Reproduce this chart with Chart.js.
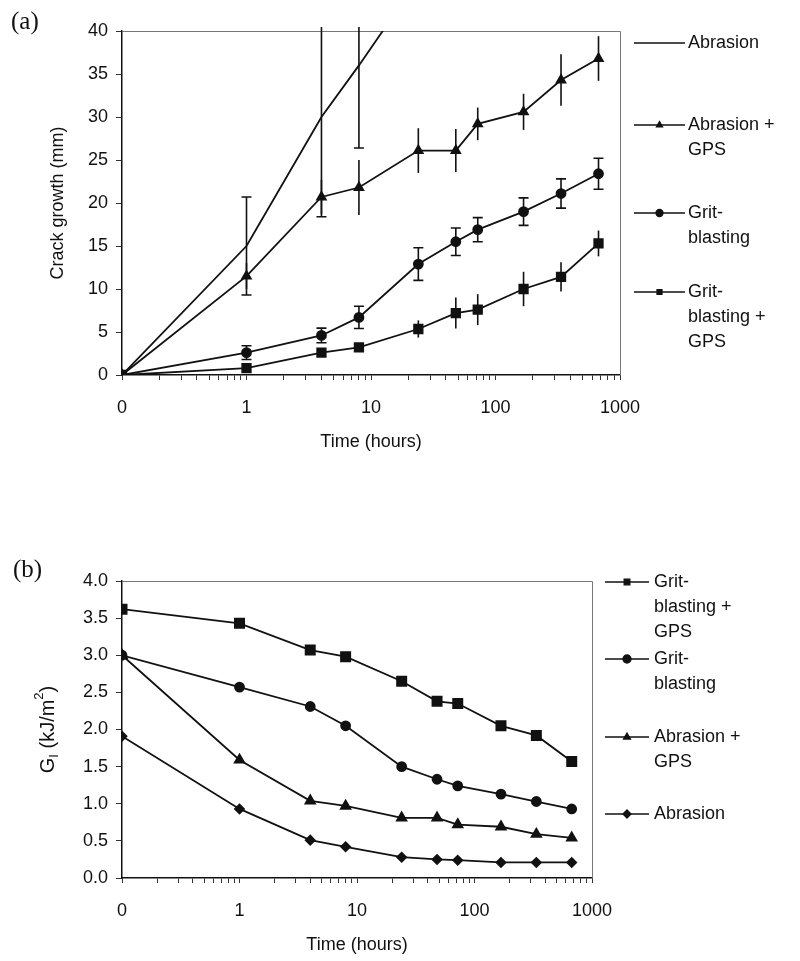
<!DOCTYPE html>
<html>
<head>
<meta charset="utf-8">
<script src="https://cdn.jsdelivr.net/npm/chart.js@4.4.0/dist/chart.umd.min.js"></script>
<style>
  html, body { margin: 0; padding: 0; background: #fff; }
  #wrapA { position: absolute; left: 0; top: 0; width: 800px; height: 470px; }
  #wrapB { position: absolute; left: 0; top: 470px; width: 800px; height: 491px; }
</style>
</head>
<body>
<div id="wrapA"><canvas id="crackChart"></canvas></div>
<div id="wrapB"><canvas id="energyChart"></canvas></div>
<script>
// time points (hours) - 0 sits at the 0.1 position of the log axis
const hours = [0, 1, 4, 8, 24, 48, 72, 168, 336, 672];
const xTickValues = [0.1, 1, 10, 100, 1000];
const xTickLabels = ['0', '1', '10', '100', '1000'];

// (a) crack growth (mm) and error bars
const crackAbrasion = [0, 15, 30, 36, 46];
const crackAbrasionErr = [0, 5.7, 11.6, 9.6, 0];
const crackAbrasionGps = [0, 11.5, 20.7, 21.8, 26.1, 26.1, 29.2, 30.6, 34.3, 36.8];
const crackAbrasionGpsErr = [0, 1.5, 2.0, 3.2, 2.6, 2.5, 1.9, 2.1, 3.0, 2.6];
const crackGrit = [0, 2.6, 4.6, 6.7, 12.9, 15.5, 16.9, 19.0, 21.1, 23.4];
const crackGritErr = [0, 0.8, 0.85, 1.3, 1.9, 1.6, 1.4, 1.6, 1.7, 1.8];
const crackGritGps = [0, 0.8, 2.6, 3.2, 5.35, 7.2, 7.6, 10.0, 11.4, 15.3];
const crackGritGpsErr = [0, 0, 0.4, 0.5, 1.0, 1.8, 1.8, 2.0, 1.7, 1.5];

// (b) fracture energy G_I (kJ/m2)
const energyGritGps = [3.62, 3.43, 3.07, 2.98, 2.65, 2.38, 2.35, 2.05, 1.92, 1.57];
const energyGrit = [3.0, 2.57, 2.31, 2.05, 1.50, 1.33, 1.24, 1.13, 1.03, 0.93];
const energyAbrasionGps = [3.0, 1.59, 1.04, 0.97, 0.81, 0.81, 0.72, 0.69, 0.59, 0.54];
const energyAbrasion = [1.91, 0.93, 0.51, 0.42, 0.28, 0.25, 0.24, 0.21, 0.21, 0.21];

const FONT = 'Liberation Sans, Arial, sans-serif';

function toPoints(vals) {
    return vals.map((v, i) => ({ x: hours[i] === 0 ? 0.1 : hours[i], y: v }));
}

// log ticks incl. minor ones; only decades get a label
const logTicks = [];
[0.1, 1, 10, 100].forEach(d => { for (let m = 1; m <= 9; m++) logTicks.push(d * m); });
logTicks.push(1000);

function series(label, lines, vals, style, radius, errors, caps) {
    return {
        label: label,
        legendLines: lines,
        data: toPoints(vals),
        errors: errors,
        caps: caps,
        borderColor: '#111',
        backgroundColor: '#111',
        borderWidth: 1.8,
        pointStyle: style,
        pointRadius: style ? radius : 0,
        pointHoverRadius: style ? radius : 0,
        pointBackgroundColor: '#111',
        pointBorderColor: '#111',
        tension: 0
    };
}

const errorBarPlugin = {
    id: 'errorBars',
    afterDatasetsDraw(chart) {
        const { ctx, chartArea, scales } = chart;
        ctx.save();
        ctx.beginPath();
        ctx.rect(chartArea.left, chartArea.top - 4, chartArea.right - chartArea.left, chartArea.bottom - chartArea.top + 4);
        ctx.clip();
        ctx.strokeStyle = '#111';
        ctx.lineWidth = 1.6;
        chart.data.datasets.forEach(ds => {
            if (!ds.errors) return;
            ds.data.forEach((p, i) => {
                const e = ds.errors[i];
                if (!e) return;
                const x = scales.x.getPixelForValue(p.x);
                const yHi = scales.y.getPixelForValue(p.y + e);
                const yLo = scales.y.getPixelForValue(p.y - e);
                ctx.beginPath();
                ctx.moveTo(x, yHi);
                ctx.lineTo(x, yLo);
                if (ds.caps) {
                    ctx.moveTo(x - 5, yHi); ctx.lineTo(x + 5, yHi);
                    ctx.moveTo(x - 5, yLo); ctx.lineTo(x + 5, yLo);
                }
                ctx.stroke();
            });
        });
        ctx.restore();
    }
};

const framePlugin = {
    id: 'frame',
    beforeDatasetsDraw(chart) {
        const { ctx, chartArea } = chart;
        ctx.save();
        ctx.strokeStyle = '#777';
        ctx.lineWidth = 1;
        ctx.beginPath();
        ctx.moveTo(chartArea.left, chartArea.top + 0.5);
        ctx.lineTo(chartArea.right + 0.5, chartArea.top + 0.5);
        ctx.lineTo(chartArea.right + 0.5, chartArea.bottom);
        ctx.stroke();
        ctx.restore();
    }
};

// side legend with multi-line labels, axis titles and panel letter
const decorPlugin = {
    id: 'decor',
    afterDraw(chart, args, opts) {
        const { ctx, chartArea } = chart;
        ctx.save();
        ctx.fillStyle = '#111';
        ctx.strokeStyle = '#111';
        ctx.textBaseline = 'middle';

        // legend
        ctx.font = '18px ' + FONT;
        chart.data.datasets.forEach((ds, i) => {
            const y = chartArea.top + opts.rows[i];
            ctx.lineWidth = 1.3;
            ctx.beginPath();
            ctx.moveTo(opts.lineStart, y);
            ctx.lineTo(opts.lineEnd, y);
            ctx.stroke();
            if (ds.pointStyle) {
                Chart.helpers.drawPoint(ctx, { pointStyle: ds.pointStyle, radius: opts.markerRadius, rotation: 0, borderWidth: 1 },
                    (opts.lineStart + opts.lineEnd) / 2, y);
            }
            ctx.textAlign = 'left';
            ds.legendLines.forEach((t, k) => ctx.fillText(t, opts.textX, y + k * 25));
        });

        // x title
        ctx.textAlign = 'center';
        ctx.font = '18px ' + FONT;
        ctx.fillText(opts.xTitle, (chartArea.left + chartArea.right) / 2, chartArea.bottom + 67);

        // y title (rotated, parts may be sub/superscript)
        ctx.save();
        ctx.translate(opts.yTitleX, (chartArea.top + chartArea.bottom) / 2);
        ctx.rotate(-Math.PI / 2);
        const fontFor = p => (p.sub || p.sup ? opts.yTitleSmall : opts.yTitleSize) + 'px ' + FONT;
        let total = 0;
        opts.yTitle.forEach(p => { ctx.font = fontFor(p); total += ctx.measureText(p.t).width; });
        let cx = -total / 2;
        ctx.textAlign = 'left';
        opts.yTitle.forEach(p => {
            ctx.font = fontFor(p);
            const dy = p.sub ? 6 : (p.sup ? -9 : 0);
            ctx.fillText(p.t, cx, dy);
            cx += ctx.measureText(p.t).width;
        });
        ctx.restore();

        // panel letter
        ctx.textAlign = 'left';
        ctx.font = '25px Liberation Serif, Times New Roman, serif';
        ctx.fillText(opts.panel, opts.panelX, opts.panelY);
        ctx.restore();
    }
};

function axes(yMax, yStep, yFormat, xHeight) {
    return {
        x: {
            type: 'logarithmic',
            min: 0.1,
            max: 1000,
            afterBuildTicks(scale) { scale.ticks = logTicks.map(v => ({ value: v })); },
            afterFit(scale) { scale.height = xHeight; },
            ticks: {
                autoSkip: false,
                maxRotation: 0,
                padding: 17,
                color: '#111',
                font: { family: FONT, size: 18 },
                callback(v) {
                    const k = xTickValues.findIndex(t => Math.abs(t - v) < 1e-9);
                    return k >= 0 ? xTickLabels[k] : '';
                }
            },
            grid: { drawOnChartArea: false, tickLength: 5, color: '#333', tickWidth: 1 },
            border: { color: '#111', width: 1.5 }
        },
        y: {
            min: 0,
            max: yMax,
            afterFit(scale) { scale.width = 122; },
            ticks: {
                stepSize: yStep,
                padding: 8,
                color: '#111',
                font: { family: FONT, size: 18 },
                callback: yFormat
            },
            grid: { drawOnChartArea: false, tickLength: 6, color: '#333' },
            border: { color: '#111', width: 1.5 }
        }
    };
}

const crackChart = new Chart(document.getElementById('crackChart').getContext('2d'), {
    type: 'line',
    data: {
        datasets: [
            series('Abrasion', ['Abrasion'], crackAbrasion, false, 0, crackAbrasionErr, true),
            series('Abrasion + GPS', ['Abrasion +', 'GPS'], crackAbrasionGps, 'triangle', 5, crackAbrasionGpsErr, false),
            series('Grit-blasting', ['Grit-', 'blasting'], crackGrit, 'circle', 4.5, crackGritErr, true),
            series('Grit-blasting + GPS', ['Grit-', 'blasting +', 'GPS'], crackGritGps, 'rect', 6, crackGritGpsErr, false)
        ]
    },
    options: {
        responsive: true,
        maintainAspectRatio: false,
        animation: false,
        layout: { padding: { top: 31, right: 180, left: 0, bottom: 0 } },
        scales: axes(40, 5, v => String(v), 95),
        plugins: {
            legend: { display: false },
            tooltip: { enabled: false },
            decor: {
                rows: [12, 94, 182, 261],
                lineStart: 634, lineEnd: 685, textX: 688, markerRadius: 3.5,
                xTitle: 'Time (hours)',
                yTitle: [{ t: 'Crack growth (mm)' }],
                yTitleSize: 18, yTitleSmall: 12,
                yTitleX: 58,
                panel: '(a)', panelX: 11, panelY: 22
            }
        }
    },
    plugins: [framePlugin, errorBarPlugin, decorPlugin]
});

const energyChart = new Chart(document.getElementById('energyChart').getContext('2d'), {
    type: 'line',
    data: {
        datasets: [
            series('Grit-blasting + GPS', ['Grit-', 'blasting +', 'GPS'], energyGritGps, 'rect', 6.5),
            series('Grit-blasting', ['Grit-', 'blasting'], energyGrit, 'circle', 4.5),
            series('Abrasion + GPS', ['Abrasion +', 'GPS'], energyAbrasionGps, 'triangle', 5.5),
            series('Abrasion', ['Abrasion'], energyAbrasion, 'rectRot', 4.5)
        ]
    },
    options: {
        responsive: true,
        maintainAspectRatio: false,
        animation: false,
        layout: { padding: { top: 111, right: 208, left: 0, bottom: 0 } },
        scales: axes(4, 0.5, v => v.toFixed(1), 83),
        plugins: {
            legend: { display: false },
            tooltip: { enabled: false },
            decor: {
                rows: [1, 78, 156, 233],
                lineStart: 605, lineEnd: 649, textX: 654, markerRadius: 4,
                xTitle: 'Time (hours)',
                yTitle: [{ t: 'G' }, { t: 'I', sub: true }, { t: ' (kJ/m' }, { t: '2', sup: true }, { t: ')' }],
                yTitleSize: 20, yTitleSmall: 13,
                yTitleX: 48,
                panel: '(b)', panelX: 13, panelY: 100
            }
        }
    },
    plugins: [framePlugin, errorBarPlugin, decorPlugin]
});
</script>
</body>
</html>
